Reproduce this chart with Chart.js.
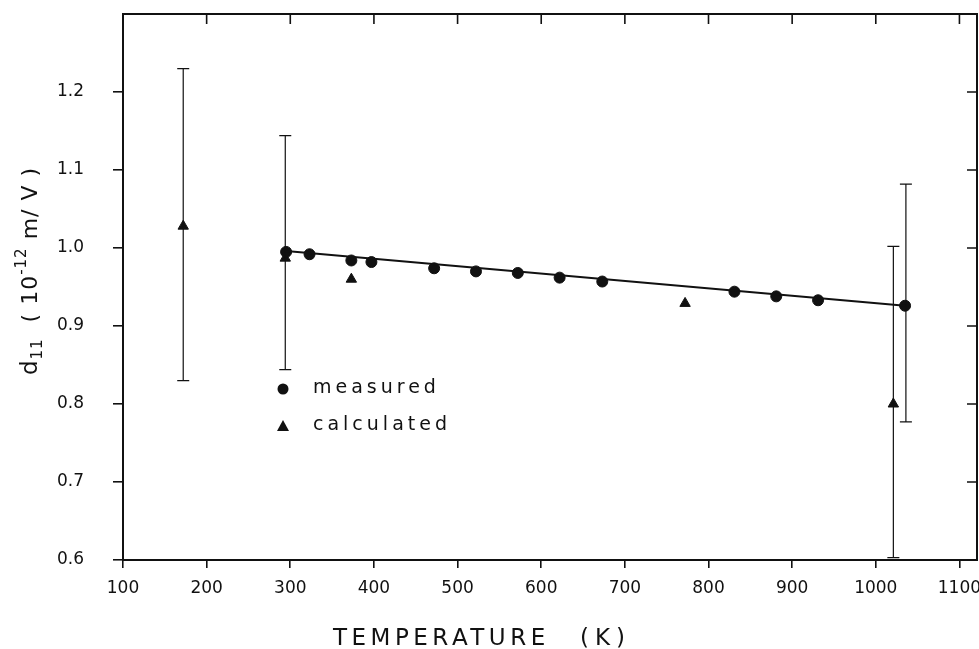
<!DOCTYPE html>
<html>
<head>
<meta charset="utf-8">
<script src="https://cdn.jsdelivr.net/npm/chart.js@4.4.0/dist/chart.umd.min.js"></script>
<style>
  html, body { margin: 0; padding: 0; background: #fff; }
  #wrap { width: 979px; height: 649px; }
</style>
</head>
<body>
<div id="wrap"><canvas id="myChart" width="979" height="649"></canvas></div>
<script>
// measured d11 (circles)
const measuredT = [295, 323, 373, 397, 472, 522, 572, 622, 673, 831, 881, 931, 1035];
const measuredD = [0.995, 0.992, 0.984, 0.982, 0.974, 0.970, 0.968, 0.962, 0.957, 0.944, 0.938, 0.933, 0.926];
// calculated d11 (triangles)
const calcT = [172, 294, 373, 772, 1021];
const calcD = [1.028, 0.987, 0.960, 0.929, 0.800];
// linear fit through measured points
const fitT = [295, 1035];
const fitD = [0.996, 0.926];
// error bars
const errT = [172, 294, 1021, 1036];
const errLo = [0.830, 0.844, 0.603, 0.777];
const errHi = [1.230, 1.144, 1.002, 1.082];
// axis ticks
const xTicks = [100, 200, 300, 400, 500, 600, 700, 800, 900, 1000, 1100];
const yTicks = [0.6, 0.7, 0.8, 0.9, 1.0, 1.1, 1.2];

const ink = "#111";
const tickFont = { family: "DejaVu Sans", size: 17 };

function pts(xs, ys) {
    return xs.map((x, i) => ({ x: x, y: ys[i] }));
}

const extras = {
    id: "extras",
    afterDatasetsDraw(chart) {
        const ctx = chart.ctx;
        const xs = chart.scales.x, ys = chart.scales.y;
        const a = chart.chartArea;
        ctx.save();
        ctx.strokeStyle = ink;
        ctx.fillStyle = ink;

        // error bars
        ctx.lineWidth = 1.2;
        for (let i = 0; i < errT.length; i++) {
            const px = xs.getPixelForValue(errT[i]);
            const top = ys.getPixelForValue(errHi[i]);
            const bot = ys.getPixelForValue(errLo[i]);
            ctx.beginPath();
            ctx.moveTo(px, top); ctx.lineTo(px, bot);
            ctx.moveTo(px - 6, top); ctx.lineTo(px + 6, top);
            ctx.moveTo(px - 6, bot); ctx.lineTo(px + 6, bot);
            ctx.stroke();
        }

        // frame
        ctx.lineWidth = 2;
        ctx.strokeRect(a.left, a.top, a.right - a.left, a.bottom - a.top);

        // inward ticks on top and right
        ctx.lineWidth = 1.6;
        ctx.beginPath();
        xTicks.forEach(v => {
            const px = xs.getPixelForValue(v);
            ctx.moveTo(px, a.top); ctx.lineTo(px, a.top + 10);
        });
        yTicks.forEach(v => {
            const py = ys.getPixelForValue(v);
            ctx.moveTo(a.right, py); ctx.lineTo(a.right - 10, py);
        });
        ctx.stroke();

        // legend
        ctx.font = "19px 'DejaVu Sans'";
        ctx.letterSpacing = "4px";
        ctx.textBaseline = "middle";
        ctx.textAlign = "left";
        ctx.beginPath();
        ctx.arc(283, 389, 5.5, 0, Math.PI * 2);
        ctx.fill();
        ctx.fillText("measured", 313, 388);
        ctx.beginPath();
        ctx.moveTo(283, 420); ctx.lineTo(289, 431); ctx.lineTo(277, 431);
        ctx.closePath();
        ctx.fill();
        ctx.fillText("calculated", 313, 425);

        // x title
        ctx.font = "23px 'DejaVu Sans'";
        ctx.letterSpacing = "4.5px";
        ctx.textBaseline = "alphabetic";
        ctx.fillText("TEMPERATURE", 333, 645);
        ctx.letterSpacing = "6px";
        ctx.fillText("(K)", 580, 645);

        // y title with subscript / superscript
        ctx.letterSpacing = "1px";
        ctx.translate(37, 271);
        ctx.rotate(-Math.PI / 2);
        const parts = [
            { t: "d", f: "23px 'DejaVu Sans'", dy: 0 },
            { t: "11", f: "15px 'DejaVu Sans'", dy: 5 },
            { t: "  ( 10", f: "22px 'DejaVu Sans'", dy: 0 },
            { t: "-12", f: "15px 'DejaVu Sans'", dy: -11 },
            { t: " m/ V )", f: "22px 'DejaVu Sans'", dy: 0 }
        ];
        let total = 0;
        parts.forEach(p => { ctx.font = p.f; p.w = ctx.measureText(p.t).width; total += p.w; });
        let cx = -total / 2;
        parts.forEach(p => {
            ctx.font = p.f;
            ctx.fillText(p.t, cx, p.dy);
            cx += p.w;
        });
        ctx.restore();
    }
};

new Chart("myChart", {
    type: "scatter",
    data: {
        datasets: [
            {
                label: "fit",
                type: "line",
                data: pts(fitT, fitD),
                borderColor: ink,
                borderWidth: 2,
                pointRadius: 0,
                fill: false
            },
            {
                label: "measured",
                data: pts(measuredT, measuredD),
                pointStyle: "circle",
                pointRadius: 5.5,
                backgroundColor: ink,
                borderColor: ink
            },
            {
                label: "calculated",
                data: pts(calcT, calcD),
                pointStyle: "triangle",
                pointRadius: 6,
                backgroundColor: ink,
                borderColor: ink
            }
        ]
    },
    options: {
        responsive: false,
        animation: false,
        layout: { autoPadding: false, padding: { top: 14, right: 2, left: 0, bottom: 0 } },
        plugins: {
            legend: { display: false },
            tooltip: { enabled: false }
        },
        scales: {
            x: {
                type: "linear",
                position: "bottom",
                min: 100,
                max: 1121,
                afterFit: s => { s.height = 89; s.paddingLeft = 0; s.paddingRight = 0; },
                afterBuildTicks: s => { s.ticks = xTicks.map(v => ({ value: v })); },
                border: { display: false },
                grid: { drawOnChartArea: false, drawTicks: true, tickLength: 8, color: ink, lineWidth: 1.6 },
                ticks: { color: ink, font: tickFont, padding: 10, maxRotation: 0, callback: v => String(v) }
            },
            y: {
                type: "linear",
                min: 0.6,
                max: 1.3,
                afterFit: s => { s.width = 123; s.paddingTop = 0; s.paddingBottom = 0; },
                afterBuildTicks: s => { s.ticks = yTicks.map(v => ({ value: v })); },
                border: { display: false },
                grid: { drawOnChartArea: false, drawTicks: true, tickLength: 10, color: ink, lineWidth: 1.6 },
                ticks: { color: ink, font: tickFont, padding: 29, callback: v => v.toFixed(1) }
            }
        }
    },
    plugins: [extras]
});
</script>
</body>
</html>
